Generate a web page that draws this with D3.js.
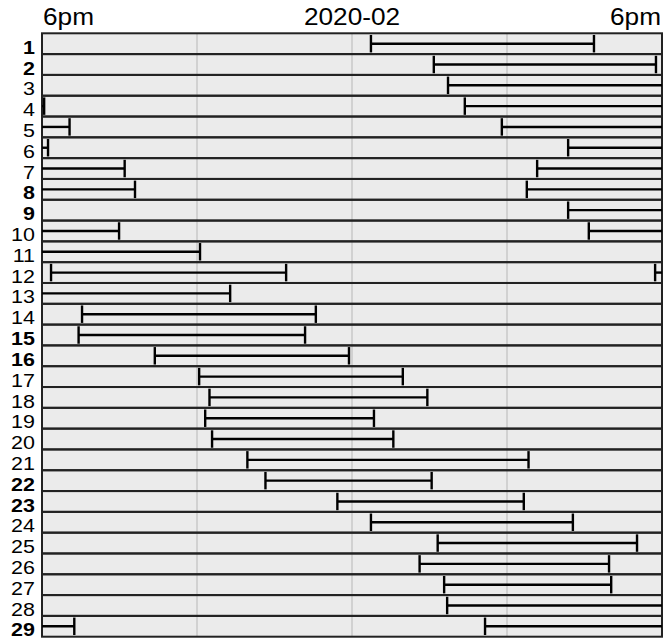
<!DOCTYPE html>
<html>
<head>
<meta charset="utf-8">
<script src="https://cdn.jsdelivr.net/npm/d3@7"></script>
<style>
  html, body { margin: 0; padding: 0; background: #fff; }
  svg { display: block; }
  text { font-family: "Liberation Sans", Arial, sans-serif; fill: #000; }
</style>
</head>
<body>
<svg id="chart" width="665" height="644"></svg>
<script>
// ---- data ----
const dayLabels = d3.range(1, 30).map(String);
const weekendDays = ["1", "2", "8", "9", "15", "16", "22", "23", "29"];
const sleepStart = [
  "2020-02-01 06:44", "2020-02-02 09:10", "2020-02-03 09:43", "2020-02-04 10:22",
  "2020-02-05 11:48", "2020-02-06 14:22", "2020-02-07 13:10", "2020-02-08 12:46",
  "2020-02-09 14:22", "2020-02-10 15:10", "2020-02-11 18:21", "2020-02-12 17:44",
  "2020-02-13 19:33", "2020-02-14 19:25", "2020-02-15 22:22", "2020-02-17 00:05",
  "2020-02-18 00:29", "2020-02-19 00:19", "2020-02-20 00:35", "2020-02-21 01:57",
  "2020-02-22 02:39", "2020-02-23 05:26", "2020-02-24 06:44", "2020-02-25 09:19",
  "2020-02-26 08:37", "2020-02-27 09:34", "2020-02-28 09:41", "2020-02-29 11:09"
];
const sleepEnd = [
  "2020-02-01 15:22", "2020-02-02 17:46", "2020-02-03 18:05", "2020-02-04 19:04",
  "2020-02-05 18:14", "2020-02-06 21:12", "2020-02-07 21:36", "2020-02-08 18:00",
  "2020-02-09 20:59", "2020-02-11 00:07", "2020-02-12 03:27", "2020-02-13 01:17",
  "2020-02-14 04:36", "2020-02-15 04:11", "2020-02-16 05:53", "2020-02-17 07:58",
  "2020-02-18 08:55", "2020-02-19 06:51", "2020-02-20 07:36", "2020-02-21 12:50",
  "2020-02-22 09:05", "2020-02-23 12:39", "2020-02-24 14:33", "2020-02-25 17:02",
  "2020-02-26 15:57", "2020-02-27 16:02", "2020-02-28 19:15", "2020-03-01 01:30"
];
const firstWindowStart = "2020-01-31 18:00";
const axisTickHours = [0, 12, 24];
const axisTickLabels = ["6pm", "2020-02", "6pm"];
const gridHours = [6, 12, 18];

// ---- layout ----
const plotLeft = 42, plotRight = 662, plotTop = 33.3, plotBottom = 636.7;
const parse = d3.timeParse("%Y-%m-%d %H:%M");
const t0 = parse(firstWindowStart);
const HOUR = 3600 * 1000;

const svg = d3.select("#chart");
const x = d3.scaleLinear().domain([0, 24]).range([plotLeft, plotRight]);
const y = d3.scaleBand().domain(dayLabels).range([plotTop, plotBottom]).padding(0);
const bw = y.bandwidth();

const sessions = sleepStart.map((s, i) => ({ start: parse(s), end: parse(sleepEnd[i]) }));

// row backgrounds
svg.append("g").selectAll("rect").data(dayLabels).join("rect")
  .attr("x", plotLeft).attr("y", d => y(d))
  .attr("width", plotRight - plotLeft).attr("height", bw)
  .attr("fill", "#ebebeb");

// gridlines
svg.append("g").selectAll("line").data(gridHours).join("line")
  .attr("x1", d => x(d)).attr("x2", d => x(d))
  .attr("y1", plotTop).attr("y2", plotBottom)
  .attr("stroke", "#c8c8c8").attr("stroke-width", 1.5);

// row borders
svg.append("g").selectAll("rect").data(dayLabels).join("rect")
  .attr("x", plotLeft).attr("y", d => y(d))
  .attr("width", plotRight - plotLeft).attr("height", bw)
  .attr("fill", "none").attr("stroke", "#222").attr("stroke-width", 2);

// segments
const segs = [];
dayLabels.forEach((d, r) => {
  const ws = new Date(t0.getTime() + r * 24 * HOUR);
  sessions.forEach(s => {
    const sh = (s.start - ws) / HOUR;
    const eh = (s.end - ws) / HOUR;
    if (eh <= 0 || sh >= 24) return;
    segs.push({ day: d, s: Math.max(0, sh), e: Math.min(24, eh), tickS: sh > 0, tickE: eh < 24 });
  });
});
const g = svg.append("g").attr("stroke", "#000").attr("stroke-width", 2.4);
const tickH = bw * 0.42;
segs.forEach(sg => {
  const cy = y(sg.day) + bw / 2;
  g.append("line").attr("x1", x(sg.s)).attr("x2", x(sg.e)).attr("y1", cy).attr("y2", cy);
  if (sg.tickS) g.append("line").attr("x1", x(sg.s)).attr("x2", x(sg.s)).attr("y1", cy - tickH).attr("y2", cy + tickH);
  if (sg.tickE) g.append("line").attr("x1", x(sg.e)).attr("x2", x(sg.e)).attr("y1", cy - tickH).attr("y2", cy + tickH);
});

// row labels
svg.append("g").selectAll("text").data(dayLabels).join("text")
  .attr("transform", d => `translate(35,${y(d) + bw - 0.3}) scale(1.13,1)`)
  .attr("text-anchor", "end")
  .attr("font-size", 19)
  .attr("font-weight", d => weekendDays.includes(d) ? "bold" : "normal")
  .text(d => d);

// top axis labels
const anchors = ["start", "middle", "end"];
svg.append("g").selectAll("text").data(axisTickHours).join("text")
  .attr("transform", (d, i) => `translate(${x(d) + (i === 0 ? 1 : i === 2 ? -1 : 0)},25) scale(1.14,1)`)
  .attr("text-anchor", (d, i) => anchors[i])
  .attr("font-size", 23)
  .text((d, i) => axisTickLabels[i]);
</script>
</body>
</html>
